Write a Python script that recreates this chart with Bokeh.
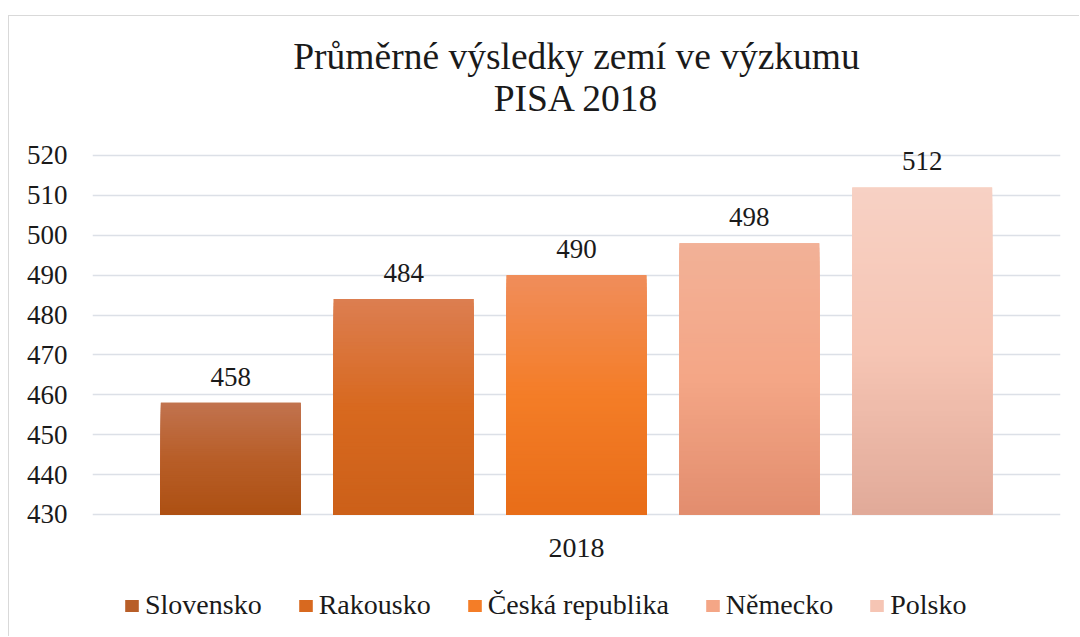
import numpy as np
from bokeh.plotting import figure
from bokeh.core.properties import value
from bokeh.models import (ColumnDataSource, FactorRange, Range1d, Legend, LegendItem,
                          LabelSet, Label, Title, FixedTicker)
from bokeh.embed import file_html
from bokeh.resources import INLINE

# ---------------- data ----------------
countries = ["Slovensko", "Rakousko", "Česká republika", "Německo", "Polsko"]
scores = [458, 484, 490, 498, 512]
year_label = "2018"
y_ticks = [430, 440, 450, 460, 470, 480, 490, 500, 510, 520]
title_line1 = "Průměrné výsledky zemí ve výzkumu"
title_line2 = "PISA 2018"

# gradient stops per bar (top, middle, bottom)
top_colors = ["#C1734F", "#DC7E51", "#F08D5B", "#F2B197", "#F7D1C4"]
mid_colors = ["#B85E28", "#D8691F", "#F47D27", "#F4A686", "#F6C5B4"]
bottom_colors = ["#AD5013", "#CC6019", "#E86D18", "#E28D6E", "#E1AA99"]

FONT = "Liberation Serif"
FONT_LIST = "Liberation Serif, Times New Roman, serif"
TXT = "#1a1a1a"
GRID = "#DCE0E7"


def hex2rgb(h):
    h = h.lstrip("#")
    return np.array([int(h[i:i + 2], 16) for i in (0, 2, 4)], dtype=float)


def rgb2hex(c):
    c = np.clip(np.round(c), 0, 255).astype(int)
    return "#%02x%02x%02x" % tuple(c)


def set_font(obj, attr, font):
    try:
        setattr(obj, attr, value(font))
    except Exception:
        setattr(obj, attr, font)


p = figure(
    x_range=FactorRange(factors=countries, range_padding=0.3, range_padding_units="absolute"),
    y_range=Range1d(399.15, 525.26),
    width=1071, height=621,
    output_backend="svg", toolbar_location=None,
    min_border_left=83, min_border_right=20, min_border_top=118, min_border_bottom=0,
)
p.styles = {"margin-left": "8px", "margin-top": "15px",
            "border-left": "1px solid #D9D9D9", "border-top": "1px solid #D9D9D9"}
p.outline_line_color = None
p.background_fill_color = "white"
p.border_fill_color = "white"

# gridlines
p.xgrid.grid_line_color = None
p.ygrid.grid_line_color = GRID
p.ygrid.grid_line_width = 1.5
p.ygrid.ticker = FixedTicker(ticks=y_ticks)

# base bars (for legend)
base_src = ColumnDataSource(dict(country=countries, score=scores, color=mid_colors,
                                 label=[str(s) for s in scores]))
base_r = p.vbar(x="country", top="score", bottom=y_ticks[0], width=0.809, source=base_src,
                fill_color="color", line_color=None)

# gradient strips
n = 60
sx, sb, st, sc = [], [], [], []
for c, s, ct, cm, cb in zip(countries, scores, top_colors, mid_colors, bottom_colors):
    edges = np.linspace(y_ticks[0], s, n + 1)
    ctr, cmr, cbr = hex2rgb(ct), hex2rgb(cm), hex2rgb(cb)
    for k in range(n - 1, -1, -1):
        t = (k + 0.5) / n
        if t < 0.5:
            col = cbr + (cmr - cbr) * (t / 0.5)
        else:
            col = cmr + (ctr - cmr) * ((t - 0.5) / 0.5)
        sx.append(c)
        sb.append(float(y_ticks[0]))
        st.append(float(edges[k + 1]))
        sc.append(rgb2hex(col))
strip_src = ColumnDataSource(dict(x=sx, bottom=sb, top=st, color=sc))
p.vbar(x="x", bottom="bottom", top="top", width=0.809, source=strip_src,
       fill_color="color", line_color=None)

# value labels
labels = LabelSet(x="country", y="score", text="label", source=base_src,
                  y_offset=17, text_align="center", text_baseline="bottom",
                  text_font=value(FONT), text_font_size=value("27px"), text_color=value(TXT))
p.add_layout(labels)

# y axis
yax = p.yaxis[0]
yax.ticker = FixedTicker(ticks=y_ticks)
yax.axis_line_color = None
yax.major_tick_line_color = None
yax.minor_tick_line_color = None
yax.major_label_standoff = 19
set_font(yax, "major_label_text_font", FONT_LIST)
yax.major_label_text_font_size = "27px"
yax.major_label_text_color = TXT

# category group label ("2018") centred under the group of bars
p.xaxis.visible = False
year_lbl = Label(x=len(countries) / 2, y=421.5, text=year_label, text_align="center",
                 text_baseline="middle", text_font_size="28px", text_color=TXT)
set_font(year_lbl, "text_font", FONT_LIST)
p.add_layout(year_lbl)

# title (two lines, centred)
title = Title(text=title_line1 + "\n" + title_line2, align="center",
              text_font_size="37.5px", text_font_style="normal", text_color=TXT,
              text_line_height=1.03, standoff=30)
set_font(title, "text_font", FONT)
try:
    title.text_align = "center"
except Exception:
    pass
p.add_layout(title, "above")

# legend (inside the frame, below the bars)
items = [LegendItem(label=c, renderers=[base_r], index=i) for i, c in enumerate(countries)]
legend = Legend(items=items, orientation="horizontal", location=(31, 16),
                label_text_font_size="28px", label_text_color=TXT,
                glyph_width=17, glyph_height=15, label_standoff=5, spacing=35,
                padding=0, margin=0, border_line_color=None, background_fill_alpha=0)
set_font(legend, "label_text_font", FONT_LIST)
p.add_layout(legend)

open("out.html", "w").write(file_html(p, INLINE))
